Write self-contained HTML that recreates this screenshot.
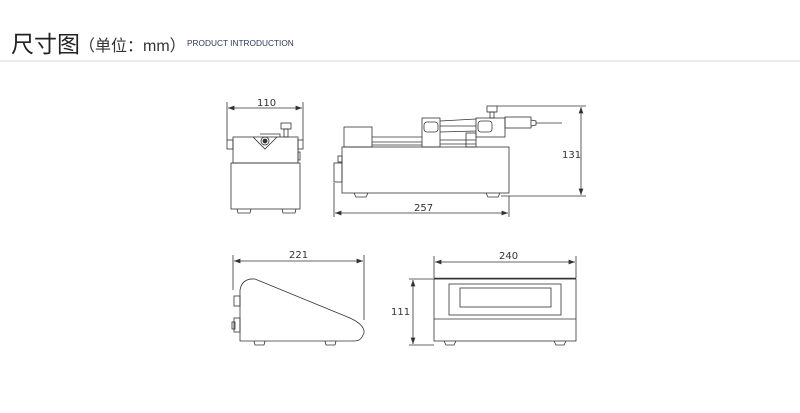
<!DOCTYPE html>
<html><head><meta charset="utf-8"><style>
body{margin:0;width:800px;height:413px;background:#fff;overflow:hidden;font-family:"Liberation Sans","Noto Sans CJK SC",sans-serif;position:relative}
.t1{position:absolute;left:11px;top:25px;font-size:23px;color:#222}
.t2{position:absolute;left:79px;top:32px;font-size:16px;color:#333}
.t3{position:absolute;left:187px;top:38px;font-size:8.3px;color:#2a3a5a}
.hr{position:absolute;left:0;top:60px;width:800px;height:2px;background:#ececec}
svg{position:absolute;left:0;top:0}
text{font-family:"DejaVu Sans","Liberation Sans",sans-serif;font-size:10px;fill:#333}
</style></head><body>
<div class="t1">尺寸图</div>
<div class="t2">（单位：mm）</div>
<div class="t3">PRODUCT INTRODUCTION</div>
<div class="hr"></div>
<svg width="800" height="413" viewBox="0 0 800 413" fill="none" stroke="#333" stroke-width="0.8">
<defs><marker id="a" markerWidth="8" markerHeight="6" refX="8" refY="3" orient="auto-start-reverse"><path d="M0,0L8,3L0,6z" fill="#333" stroke="none"/></marker></defs>
<line x1="227" y1="102" x2="227" y2="140"/><line x1="303" y1="102" x2="303" y2="140"/>
<line x1="228" y1="108" x2="302" y2="108" marker-start="url(#a)" marker-end="url(#a)"/>
<text x="257" y="106" stroke="none">110</text>
<rect x="233" y="137" width="65" height="26"/>
<rect x="231" y="163" width="69" height="46"/>
<rect x="227" y="140" width="6" height="9"/><rect x="298" y="140" width="5" height="9"/>
<rect x="298" y="152" width="2" height="8"/>
<rect x="281" y="123" width="10" height="6"/><rect x="284" y="129" width="4" height="8"/>
<path d="M260,134L280,134L280,137M253,137L265,149L277,137"/>
<circle cx="265" cy="141" r="4"/><circle cx="265" cy="141" r="2" fill="#333"/>
<path d="M237,209L238,213L250,213L251,209M282,209L283,213L295,213L296,209"/>
<rect x="342" y="147" width="167" height="46"/>
<rect x="344" y="127" width="28" height="20"/>
<line x1="372" y1="137" x2="422" y2="137"/><line x1="372" y1="142" x2="422" y2="142"/><line x1="372" y1="145" x2="422" y2="145"/>
<rect x="422" y="118" width="18" height="29"/>
<rect x="424" y="122" width="14" height="10" rx="3"/>
<path d="M440,121L476,119M440,126L476,126M440,132L476,131M440,140L476,140M440,144L476,144"/>
<rect x="466" y="133" width="10" height="14"/>
<rect x="476" y="118" width="29" height="19"/>
<rect x="478" y="121" width="14" height="11" rx="3"/>
<rect x="487" y="106" width="10" height="6"/><rect x="490" y="112" width="4" height="6"/>
<rect x="505" y="117" width="26" height="11"/>
<path d="M531,120L536,121L536,125L531,126M536,123L540,123M540,123L562,123"/>
<rect x="334" y="163" width="8" height="19"/><rect x="338" y="156" width="4" height="6"/>
<path d="M354,193L356,197L366,197L368,193M486,193L488,197L498,197L500,193"/>
<line x1="334" y1="183" x2="334" y2="217"/><line x1="509" y1="196" x2="509" y2="217"/>
<line x1="335" y1="213" x2="508" y2="213" marker-start="url(#a)" marker-end="url(#a)"/>
<text x="414" y="211" stroke="none">257</text>
<line x1="497" y1="106" x2="586" y2="106"/><line x1="501" y1="196" x2="586" y2="196"/>
<line x1="581" y1="107" x2="581" y2="195" marker-start="url(#a)" marker-end="url(#a)"/>
<text x="562" y="158" stroke="none">131</text>
<line x1="233" y1="255" x2="233" y2="290"/><line x1="364" y1="255" x2="364" y2="320"/>
<line x1="234" y1="261" x2="363" y2="261" marker-start="url(#a)" marker-end="url(#a)"/>
<text x="289" y="258" stroke="none">221</text>
<path d="M240,341L240,290Q242,278 255,279L350,318Q365,325 364,333L362,337Q360,341 354,341Z"/>
<rect x="234" y="296" width="6" height="10"/><rect x="234" y="318" width="6" height="14"/><rect x="232" y="322" width="3" height="7"/>
<path d="M254,341L255,345L264,345L265,341M325,341L326,345L335,345L336,341"/>
<line x1="434" y1="256" x2="434" y2="278"/><line x1="576" y1="256" x2="576" y2="278"/>
<line x1="435" y1="262" x2="575" y2="262" marker-start="url(#a)" marker-end="url(#a)"/>
<text x="499" y="259" stroke="none">240</text>
<rect x="434" y="279" width="142" height="62"/>
<line x1="434" y1="278.5" x2="576" y2="278.5" stroke-width="1.5"/>
<rect x="449" y="284" width="112" height="31"/>
<rect x="460" y="288" width="91" height="19"/>
<line x1="434" y1="319" x2="576" y2="319"/>
<path d="M444,341L446,345L454,345L456,341M554,341L556,345L564,345L566,341"/>
<line x1="409" y1="279" x2="434" y2="279"/><line x1="409" y1="345" x2="434" y2="345"/>
<line x1="413" y1="280" x2="413" y2="344" marker-start="url(#a)" marker-end="url(#a)"/>
<text x="391" y="315" stroke="none">111</text>
</svg>
</body></html>
